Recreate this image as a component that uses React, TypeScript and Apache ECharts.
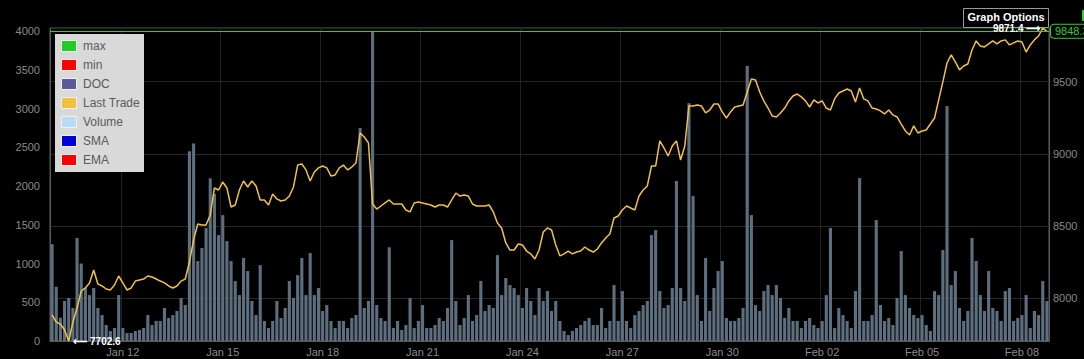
import React, { useEffect, useRef } from "react";
import * as echarts from "echarts";

// 3-hour buckets, first bucket starts Jan 09 21:00
const startTime = Date.UTC(2018, 0, 9, 21, 0);
const stepHours = 3;
const monthNames = ["Jan", "Feb", "Mar", "Apr", "May", "Jun", "Jul", "Aug", "Sep", "Oct", "Nov", "Dec"];
const tickLabels = ["Jan 12", "Jan 15", "Jan 18", "Jan 21", "Jan 24", "Jan 27", "Jan 30", "Feb 02", "Feb 05", "Feb 08"];

const volume = [
  1250, 700, 300, 516, 555, 426, 1330, 1000, 684, 593,
  684, 426, 335, 206, 129, 168, 593, 168, 103, 103,
  129, 142, 168, 335, 206, 258, 258, 426, 297, 335,
  387, 555, 464, 2450, 2550, 1032, 1200, 1458, 2100, 1900,
  1367, 1625, 1290, 1032, 774, 593, 1071, 903, 516, 335,
  980, 258, 168, 258, 516, 297, 426, 774, 555, 851,
  1071, 593, 1135, 593, 684, 387, 464, 258, 168, 258,
  258, 168, 297, 335, 2750, 426, 516, 3990, 464, 297,
  258, 1210, 168, 258, 142, 206, 555, 168, 258, 464,
  168, 168, 206, 297, 258, 426, 1303, 516, 206, 297,
  593, 258, 335, 774, 387, 464, 426, 1109, 593, 813,
  722, 684, 593, 426, 684, 516, 335, 684, 516, 645,
  387, 516, 258, 129, 77, 129, 168, 206, 258, 297,
  206, 206, 426, 168, 258, 722, 258, 645, 258, 168,
  335, 387, 464, 516, 1367, 1432, 645, 426, 464, 684,
  2064, 684, 516, 3070, 1870, 593, 258, 1071, 387, 684,
  903, 1032, 297, 258, 258, 297, 426, 3548, 1625, 464,
  387, 645, 722, 593, 722, 555, 297, 426, 258, 258,
  168, 258, 297, 206, 168, 258, 593, 1458, 168, 426,
  335, 258, 168, 645, 2103, 258, 258, 335, 1561, 464,
  258, 297, 206, 555, 1161, 593, 426, 335, 297, 335,
  206, 129, 645, 593, 1174, 3032, 722, 903, 426, 258,
  387, 1329, 1032, 593, 387, 903, 426, 387, 258, 645,
  684, 258, 297, 335, 593, 168, 387, 335, 774, 516,
];

const lastTrade = [
  7883, 7834, 7820, 7779, 7702.6, 7834, 7931, 8049, 8070, 8105,
  8195, 8098, 8084, 8063, 8056, 8091, 8153, 8105, 8056, 8070,
  8118, 8125, 8132, 8153, 8146, 8132, 8118, 8105, 8084, 8070,
  8084, 8118, 8132, 8250, 8403, 8513, 8507, 8507, 8576, 8763,
  8749, 8804, 8763, 8631, 8645, 8749, 8811, 8770, 8811, 8777,
  8680, 8680, 8645, 8721, 8687, 8673, 8680, 8707, 8770, 8922,
  8929, 8888, 8811, 8874, 8902, 8915, 8902, 8846, 8853, 8902,
  8922, 8888, 8908, 8936, 9144, 9116, 9075, 8652, 8617, 8638,
  8659, 8680, 8652, 8652, 8652, 8610, 8597, 8659, 8666, 8659,
  8652, 8645, 8631, 8645, 8645, 8631, 8680, 8728, 8707, 8714,
  8707, 8652, 8638, 8638, 8638, 8645, 8597, 8520, 8486, 8382,
  8333, 8333, 8375, 8368, 8326, 8306, 8271, 8333, 8458, 8486,
  8472, 8368, 8292, 8306, 8326, 8306, 8319, 8326, 8354, 8333,
  8319, 8340, 8382, 8416, 8444, 8555, 8569, 8610, 8638, 8624,
  8610, 8707, 8749, 8777, 8915, 8915, 9089, 9040, 8985, 9054,
  9089, 8957, 9054, 9331, 9331, 9338, 9331, 9283, 9303, 9345,
  9345, 9290, 9248, 9290, 9324, 9331, 9338, 9428, 9518, 9511,
  9428, 9366, 9317, 9262, 9255, 9283, 9317, 9366, 9400, 9414,
  9394, 9366, 9324, 9373, 9352, 9366, 9317, 9303, 9380, 9421,
  9435, 9449, 9435, 9359, 9456, 9380, 9366, 9317, 9310, 9297,
  9276, 9303, 9269, 9255, 9206, 9158, 9130, 9193, 9144, 9158,
  9165, 9206, 9248, 9373, 9498, 9629, 9685, 9636, 9581, 9608,
  9622, 9719, 9782, 9747, 9740, 9761, 9782, 9761, 9782, 9789,
  9754, 9768, 9782, 9775, 9705, 9754, 9789, 9816, 9871.4, 9848.3,
];

const legendNames = ["max", "min", "DOC", "Last Trade", "Volume", "SMA", "EMA"];
const legendColors = ["#22cc22", "#ff0000", "#5a5a9a", "#f0c040", "#b8dcf5", "#0000dd", "#ff0000"];

const volumeMax = 4040;
const priceMin = 7702.6;
const priceMax = 9871.4;

const categories = volume.map((_, i) => {
  const d = new Date(startTime + i * stepHours * 3600000);
  const day = String(d.getUTCDate()).padStart(2, "0");
  const hr = String(d.getUTCHours()).padStart(2, "0");
  return `${monthNames[d.getUTCMonth()]} ${day} ${hr}:00`;
});

const isTick = (value: string) =>
  value.endsWith("00:00") && tickLabels.includes(value.slice(0, 6));

const FONT = "'Liberation Sans', Arial, sans-serif";

export default function App() {
  const ref = useRef<HTMLDivElement>(null);

  useEffect(() => {
    if (!ref.current) return;
    const chart = echarts.init(ref.current, undefined, { renderer: "svg" });
    const lastValue = lastTrade[lastTrade.length - 1];

    const legendGraphics: any[] = [
      {
        type: "rect",
        z: 100,
        shape: { x: 55, y: 34, width: 89, height: 138 },
        style: { fill: "#d9d9d9" },
      },
    ];
    legendNames.forEach((name, i) => {
      legendGraphics.push({
        type: "rect",
        z: 101,
        shape: { x: 61.5, y: 40.5 + i * 19, width: 15, height: 11 },
        style: { fill: legendColors[i], stroke: "#f2f2f2", lineWidth: 1 },
      });
      legendGraphics.push({
        type: "text",
        z: 101,
        x: 83,
        y: 46 + i * 19,
        style: {
          text: name,
          fill: "#5a5a5a",
          font: `12px ${FONT}`,
          textVerticalAlign: "middle",
        },
      });
    });

    chart.setOption({
      animation: false,
      backgroundColor: "#000",
      grid: {
        left: 50,
        right: 35,
        top: 28,
        bottom: 18,
        show: true,
        borderColor: "#5a5a5a",
        borderWidth: 1,
      },
      xAxis: {
        type: "category",
        data: categories,
        boundaryGap: true,
        axisLine: { lineStyle: { color: "#5a5a5a" } },
        axisTick: { show: false },
        axisLabel: {
          interval: (_i: number, v: string) => isTick(v),
          formatter: (v: string) => v.slice(0, 6),
          color: "#8a8a8a",
          fontSize: 11,
          fontFamily: FONT,
          margin: 5,
        },
        splitLine: {
          show: true,
          interval: (_i: number, v: string) => isTick(v),
          lineStyle: { color: "#222" },
        },
      },
      yAxis: [
        {
          type: "value",
          min: 0,
          max: volumeMax,
          interval: 500,
          position: "left",
          axisLine: { show: true, lineStyle: { color: "#5a5a5a" } },
          axisTick: { show: false },
          splitLine: { show: false },
          axisLabel: {
            color: "#8a8a8a",
            fontSize: 11,
            fontFamily: FONT,
            margin: 10,
            formatter: (v: number) => (v % 500 === 0 ? String(v) : ""),
          },
        },
        {
          type: "value",
          min: priceMin,
          max: priceMax,
          position: "right",
          axisLine: { show: true, lineStyle: { color: "#5a5a5a" } },
          axisTick: { show: false },
          splitLine: { show: true, lineStyle: { color: "#262626" } },
          axisLabel: {
            color: "#8a8a8a",
            fontSize: 11,
            fontFamily: FONT,
            margin: 4,
            formatter: (v: number) => (Math.abs(v % 500) < 1e-6 ? String(v) : ""),
          },
        },
      ],
      series: [
        {
          name: "Volume",
          type: "bar",
          yAxisIndex: 0,
          data: volume,
          barCategoryGap: "25%",
          itemStyle: { color: "#5d6e7f" },
          silent: true,
        },
        {
          name: "Last Trade",
          type: "line",
          yAxisIndex: 1,
          data: lastTrade,
          showSymbol: false,
          z: 3,
          lineStyle: { color: "#f0c04c", width: 1.5 },
          itemStyle: { color: "#f0c04c" },
          silent: true,
          markLine: {
            silent: true,
            symbol: "none",
            lineStyle: { color: "#33cc33", width: 1, type: "solid" },
            label: {
              position: "end",
              distance: 2,
              formatter: () => String(lastValue),
              color: "#33cc33",
              backgroundColor: "#000",
              borderColor: "#33cc33",
              borderWidth: 1,
              borderRadius: 3,
              padding: [1, 2, 1, 4],
              fontSize: 11,
              fontFamily: FONT,
            },
            data: [{ yAxis: lastValue }],
          },
          markPoint: {
            symbol: "circle",
            symbolSize: 1,
            z: 10,
            itemStyle: { color: "rgba(0,0,0,0)" },
            data: [
              {
                type: "max",
                label: {
                  show: true,
                  position: "left",
                  distance: 2,
                  formatter: (p: any) => `${p.value} \u27F6`,
                  color: "#fff",
                  fontWeight: "bold",
                  fontSize: 10,
                  fontFamily: FONT,
                },
              },
              {
                type: "min",
                label: {
                  show: true,
                  position: "right",
                  distance: 4,
                  formatter: (p: any) => `\u27F5 ${p.value}`,
                  color: "#fff",
                  fontWeight: "bold",
                  fontSize: 10,
                  fontFamily: FONT,
                },
              },
            ],
          },
        },
      ],
      graphic: [
        ...legendGraphics,
        {
          type: "rect",
          z: 1,
          shape: { x: 963.5, y: 8.5, width: 85, height: 19 },
          style: { fill: "#000", stroke: "#9a9a9a", lineWidth: 1 },
        },
        {
          type: "text",
          z: 1,
          x: 1006,
          y: 17,
          style: {
            text: "Graph Options",
            fill: "#fff",
            font: `bold 11px ${FONT}`,
            textAlign: "center",
            textVerticalAlign: "middle",
          },
        },
        {
          type: "rect",
          z: 1,
          shape: { x: 1082, y: 10, width: 4, height: 11 },
          style: { fill: "#33cc33" },
        },
      ],
    });

    return () => chart.dispose();
  }, []);

  return (
    <div
      ref={ref}
      style={{ position: "fixed", left: 0, top: 0, width: 1084, height: 359, background: "#000" }}
    />
  );
}
